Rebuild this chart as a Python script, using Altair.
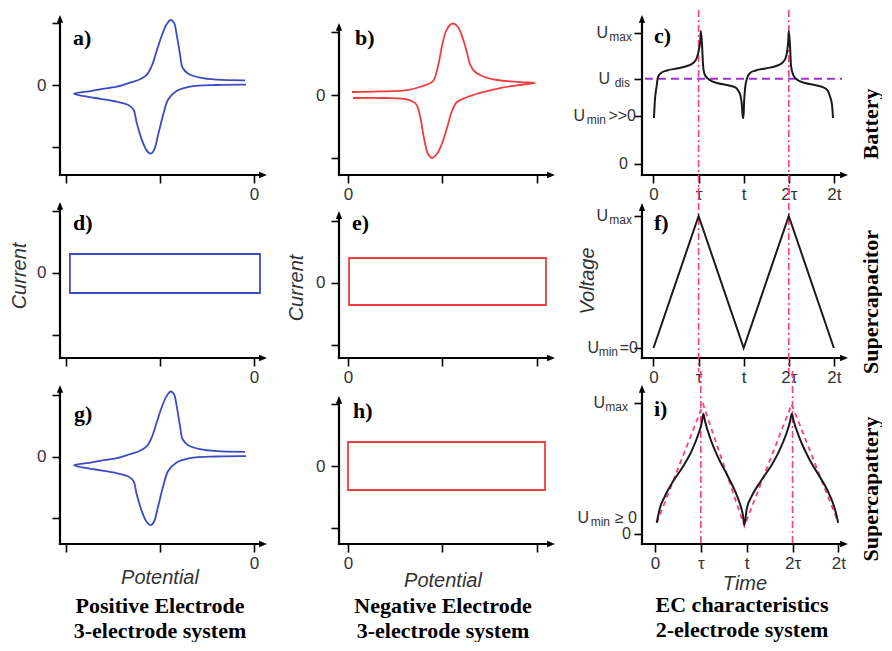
import json
import altair as alt
import pandas as pd

# ---------------- data ----------------
CV_X_TICKS = [0, 1, 2]
CV_Y_TICKS = [-1, 0, 1]
T_TICKS = [0, 1, 2, 3, 4]
T_LABELS = ["0", "τ", "t", "2τ", "2t"]
GUIDE_T = [1, 3]  # tau and 2 tau

# positive electrode CV (panels a and g): upper (anodic) and lower (cathodic) branches
POS_UP_X = [0.080, 0.215, 0.357, 0.535, 0.677, 0.784, 0.855, 0.909, 0.962, 1.015, 1.069, 1.111,
            1.147, 1.175, 1.211, 1.239, 1.299, 1.424, 1.602, 1.904]
POS_UP_Y = [-0.141, -0.109, -0.070, -0.028, 0.037, 0.093, 0.163, 0.309, 0.553, 0.797, 0.986, 1.057,
            1.013, 0.824, 0.499, 0.281, 0.184, 0.119, 0.086, 0.076]
POS_LO_X = [0.080, 0.286, 0.499, 0.659, 0.713, 0.749, 0.802, 0.855, 0.898, 0.933, 0.979, 1.033,
            1.086, 1.175, 1.317, 1.602, 1.915]
POS_LO_Y = [-0.141, -0.206, -0.260, -0.325, -0.395, -0.613, -0.883, -1.062, -1.117, -1.062, -0.802,
            -0.477, -0.233, -0.098, -0.028, 0.0, 0.005]

# negative electrode CV (panel b)
NEG_UP_X = [0.042, 0.340, 0.626, 0.796, 0.902, 0.955, 0.997, 1.040, 1.082, 1.114, 1.167, 1.220,
            1.263, 1.294, 1.337, 1.422, 1.581, 1.825, 1.984]
NEG_UP_Y = [0.048, 0.056, 0.079, 0.143, 0.222, 0.460, 0.778, 1.016, 1.111, 1.135, 1.079, 0.889,
            0.667, 0.492, 0.381, 0.302, 0.238, 0.206, 0.190]
NEG_LO_X = [1.984, 1.825, 1.613, 1.401, 1.241, 1.156, 1.103, 1.050, 0.987, 0.934, 0.891, 0.849,
            0.806, 0.764, 0.721, 0.626, 0.393, 0.053]
NEG_LO_Y = [0.190, 0.159, 0.111, 0.032, -0.048, -0.111, -0.254, -0.524, -0.810, -0.952, -1.0,
            -0.937, -0.683, -0.333, -0.143, -0.071, -0.048, -0.048]

# rectangular (capacitive) CVs: x1, x2, y1, y2
RECT_D = [0.037, 2.064, -0.323, 0.306]
RECT_E = [0.011, 2.100, -0.355, 0.403]
RECT_H = [0.000, 2.090, -0.390, 0.390]

# battery charge/discharge (panel c)
BAT_T = [0.01, 0.03, 0.07, 0.10, 0.17, 0.30, 0.52, 0.74, 0.88, 0.96, 1.01, 1.04, 1.05,
         1.08, 1.10, 1.14, 1.23, 1.41, 1.63, 1.79, 1.87, 1.93, 1.96, 1.98,
         1.995, 2.01, 2.03, 2.07, 2.14, 2.27, 2.49, 2.72, 2.85, 2.93, 2.97, 2.99, 3.00,
         3.03, 3.05, 3.10, 3.18, 3.36, 3.58, 3.74, 3.85, 3.91, 3.96, 3.98]
BAT_U = [0.351, 0.481, 0.595, 0.664, 0.695, 0.714, 0.729, 0.748, 0.771, 0.809, 0.878, 0.954, 1.015,
         0.885, 0.748, 0.679, 0.645, 0.618, 0.603, 0.588, 0.565, 0.519, 0.450, 0.351,
         0.351, 0.481, 0.573, 0.649, 0.695, 0.714, 0.729, 0.748, 0.771, 0.809, 0.878, 0.954, 1.015,
         0.885, 0.748, 0.679, 0.645, 0.618, 0.603, 0.588, 0.565, 0.519, 0.450, 0.351]
U_DIS = 0.65
U_MIN_BAT = 0.366
UDIS_SPAN = [-0.19, 4.18]

# supercapacitor (panel f)
SC_T = [0, 1, 2, 3, 4]
SC_U = [0, 1, 0, 1, 0]

# supercapattery (panel i)
SCT_T = [0.037, 0.109, 0.218, 0.40, 0.618, 0.80, 0.945, 1.02, 1.055,
         1.09, 1.20, 1.38, 1.566, 1.747, 1.856, 1.915, 1.95,
         2.00, 2.11, 2.31, 2.53, 2.71, 2.86, 2.94, 2.985,
         3.025, 3.15, 3.35, 3.56, 3.77, 3.89, 3.955, 3.995]
SCT_U = [0.086, 0.201, 0.290, 0.405, 0.519, 0.634, 0.761, 0.850, 0.918,
         0.863, 0.735, 0.582, 0.456, 0.328, 0.227, 0.150, 0.069,
         0.190, 0.290, 0.405, 0.519, 0.634, 0.761, 0.850, 0.918,
         0.863, 0.735, 0.582, 0.456, 0.328, 0.227, 0.150, 0.086]
SCT_REF_T = [0.04, 1.05, 1.95, 2.98, 4.0]
SCT_REF_U = [0.086, 0.99, 0.06, 0.99, 0.086]
U_MIN_SCT = 0.122

# ---------------- style ----------------
SANS = "Liberation Sans"
SERIF = "Liberation Serif"
LBL = "#333333"
BLUE = "#3b4cc0"
RED = "#f03c3c"
PINK = "#ff3d7f"
PURPLE = "#9a32cd"
ARROW_R = "M0,0L-1.5,-0.6L-1.5,0.6Z"
ARROW_U = "M0,0L-0.6,1.5L0.6,1.5Z"
BIG = 22       # bold serif captions
SIDE = 22      # row labels on the right
TITLE = 20     # italic axis titles
TICK = 17      # tick labels
ULAB = 16      # U labels in column 3
SUB = 12       # subscripts


class Panel:
    def __init__(self, w, h, xdom, ydom, xticks, yticks, xexpr=None, yexpr=None,
                 xtip=None, ytip=None):
        self.w, self.h = w, h
        self.xdom, self.ydom = xdom, ydom
        self.kx = w / (xdom[1] - xdom[0])
        self.ky = h / (ydom[1] - ydom[0])
        self.xtip = xdom[1] if xtip is None else xtip
        self.ytip = ydom[1] if ytip is None else ytip
        self.xs = alt.Scale(domain=xdom, nice=False, zero=False)
        self.ys = alt.Scale(domain=ydom, nice=False, zero=False)
        common = dict(domain=False, grid=False, tickSize=8, tickWidth=1.6, tickColor="black",
                      labelFont=SANS, labelFontSize=TICK, labelColor=LBL,
                      labelFlush=False, labelOverlap=False, labelAngle=0, title=None)
        xa = dict(common, values=xticks, labelPadding=3)
        ya = dict(common, values=yticks, labelPadding=6)
        if xexpr:
            xa["labelExpr"] = xexpr
        else:
            xa["labels"] = False
        if yexpr:
            ya["labelExpr"] = yexpr
        else:
            ya["labels"] = False
        self.xaxis = alt.Axis(**xa)
        self.yaxis = alt.Axis(**ya)
        self.layers = []
        self._frame()

    def X(self, f="x"):
        return alt.X(f"{f}:Q", scale=self.xs, axis=self.xaxis)

    def Y(self, f="y"):
        return alt.Y(f"{f}:Q", scale=self.ys, axis=self.yaxis)

    def _frame(self):
        x0, y0 = self.xdom[0], self.ydom[0]
        self.layers.append(
            alt.Chart(pd.DataFrame({"x": [x0], "x2": [self.xtip - 5 / self.kx], "y": [y0]}))
            .mark_rule(color="black", strokeWidth=2.2, strokeCap="square")
            .encode(x=self.X(), x2="x2:Q", y=self.Y()))
        self.layers.append(
            alt.Chart(pd.DataFrame({"x": [x0], "y": [y0], "y2": [self.ytip - 5 / self.ky]}))
            .mark_rule(color="black", strokeWidth=2.2, strokeCap="square")
            .encode(x=self.X(), y=self.Y(), y2="y2:Q"))
        self.layers.append(
            alt.Chart(pd.DataFrame({"x": [self.xtip], "y": [y0]}))
            .mark_point(shape=ARROW_R, size=110, filled=True, color="black", opacity=1, strokeWidth=0)
            .encode(x=self.X(), y=self.Y()))
        self.layers.append(
            alt.Chart(pd.DataFrame({"x": [x0], "y": [self.ytip]}))
            .mark_point(shape=ARROW_U, size=110, filled=True, color="black", opacity=1, strokeWidth=0)
            .encode(x=self.X(), y=self.Y()))

    def path(self, xs, ys, color, width=1.8, interp="catmull-rom", dash=None):
        d = pd.DataFrame({"x": xs, "y": ys, "o": list(range(len(xs)))})
        kw = dict(color=color, strokeWidth=width, interpolate=interp)
        if dash:
            kw["strokeDash"] = dash
        self.layers.append(alt.Chart(d).mark_line(**kw).encode(x=self.X(), y=self.Y(), order="o:Q"))

    def rect(self, r, color):
        d = pd.DataFrame({"x": [r[0]], "x2": [r[1]], "y": [r[2]], "y2": [r[3]]})
        self.layers.append(
            alt.Chart(d).mark_rect(fillOpacity=0, stroke=color, strokeWidth=1.8)
            .encode(x=self.X(), x2="x2:Q", y=self.Y(), y2="y2:Q"))

    def guides(self, top, bottom):
        d = pd.DataFrame({"x": GUIDE_T})
        self.layers.append(
            alt.Chart(d).mark_rule(color=PINK, strokeWidth=1.6, strokeDash=[7, 3, 2, 3])
            .encode(x=self.X(), y=alt.value(top), y2=alt.value(bottom)))

    def ylab(self, text, v, dx, dy=0, size=ULAB):
        d = pd.DataFrame({"x": [self.xdom[0]], "y": [v], "t": [text]})
        self.layers.append(
            alt.Chart(d).mark_text(align="right", baseline="middle", dx=dx, dy=dy, font=SANS,
                                   fontSize=size, color=LBL)
            .encode(x=self.X(), y=self.Y(), text="t:N"))

    def note(self, text, px, py, size=22, font=SERIF, weight="bold", style="normal",
             angle=0, align="center", color="black"):
        d = pd.DataFrame({"t": [text]})
        self.layers.append(
            alt.Chart(d).mark_text(align=align, baseline="middle", font=font, fontSize=size,
                                   fontWeight=weight, fontStyle=style, angle=angle, color=color)
            .encode(x=alt.value(px), y=alt.value(py), text="t:N"))

    def title(self, text, px, py, angle=0):
        self.note(text, px, py, size=TITLE, font=SANS, weight="normal", style="italic",
                  angle=angle, color=LBL)

    def chart(self):
        return alt.layer(*self.layers).properties(width=self.w, height=self.h)


def cv_loop(up_x, up_y, lo_x, lo_y, lower_first):
    if lower_first:
        return list(reversed(lo_x)) + up_x[1:], list(reversed(lo_y)) + up_y[1:]
    return up_x + lo_x[1:], up_y + lo_y[1:]


EXPR_LAST0 = "datum.value == 2 ? '0' : ''"
EXPR_FIRST0 = "datum.value == 0 ? '0' : ''"
EXPR_Y0 = "datum.value == 0 ? '0' : ''"
EXPR_T = json.dumps(T_LABELS, ensure_ascii=False) + "[datum.value]"

W1, W2, W3 = 207, 231, 206
H1, H2, H3 = 160, 156, 159
X1 = [-0.069, 2.139]
X2 = [-0.0955, 2.355]
X3 = [-0.255, 4.313]
X3I = [-0.284, 4.21]
SIDE_X = 229   # right-hand row labels, relative to column-3 plot

pos_x, pos_y = cv_loop(POS_UP_X, POS_UP_Y, POS_LO_X, POS_LO_Y, True)
neg_x, neg_y = cv_loop(NEG_UP_X, NEG_UP_Y, NEG_LO_X, NEG_LO_Y, False)

# a
pa = Panel(W1, H1, X1, [-1.463, 1.138], CV_X_TICKS, CV_Y_TICKS, EXPR_LAST0, EXPR_Y0)
pa.path(pos_x, pos_y, BLUE)
pa.note("a)", 13, 23, align="left")
# b
pb = Panel(W2, H1, X2, [-1.27, 1.27], CV_X_TICKS, CV_Y_TICKS, EXPR_FIRST0, EXPR_Y0,
           xtip=2.196, ytip=1.143)
pb.path(neg_x, neg_y, RED)
pb.note("b)", 16, 23, align="left")
# c
pc = Panel(W3, H1, X3, [-0.084, 1.137], T_TICKS, [0, U_MIN_BAT, U_DIS, 1.0], EXPR_T)
pc.guides(-5, H1 + 14)
pc.layers.append(
    alt.Chart(pd.DataFrame({"x": [UDIS_SPAN[0]], "x2": [UDIS_SPAN[1]], "y": [U_DIS]}))
    .mark_rule(color=PURPLE, strokeWidth=2, strokeDash=[8, 5])
    .encode(x=pc.X(), x2="x2:Q", y=pc.Y()))
pc.path(BAT_T, BAT_U, "#1a1a1a", width=2, interp="monotone")
pc.ylab("U", 1.0, -34)
pc.ylab("max", 1.0, -10, dy=4, size=SUB)
pc.ylab("U", U_DIS, -32)
pc.ylab("dis", U_DIS, -12, dy=4, size=SUB)
pc.ylab("U", U_MIN_BAT, -57)
pc.ylab("min", U_MIN_BAT, -36, dy=4, size=SUB)
pc.ylab(">>0", U_MIN_BAT, -6)
pc.ylab("0", 0, -14)
pc.note("c)", 12, 21, align="left")
pc.note("Battery", SIDE_X, 109, size=SIDE, angle=270)

# d
pd_ = Panel(W1, H2, X1, [-1.371, 1.145], CV_X_TICKS, CV_Y_TICKS, EXPR_LAST0, EXPR_Y0)
pd_.rect(RECT_D, BLUE)
pd_.note("d)", 13, 21, align="left")
pd_.title("Current", -40, 74, angle=270)
# e
pe = Panel(W2, H2, X2, [-1.21, 1.306], CV_X_TICKS, CV_Y_TICKS, EXPR_FIRST0, EXPR_Y0,
           xtip=2.196, ytip=1.16)
pe.rect(RECT_E, RED)
pe.note("e)", 13, 21, align="left")
pe.title("Current", -42, 86, angle=270)
# f
pf = Panel(W3, H2, X3, [-0.076, 1.106], T_TICKS, [0, 1], EXPR_T, ytip=1.098)
pf.guides(-14, H2 + 14)
pf.path(SC_T, SC_U, "#1a1a1a", width=2, interp="linear")
pf.ylab("U", 1.0, -34)
pf.ylab("max", 1.0, -10, dy=4, size=SUB)
pf.ylab("U", 0, -43)
pf.ylab("min", 0, -24, dy=4, size=SUB)
pf.ylab("=0", 0, -4)
pf.note("f)", 12, 21, align="left")
pf.title("Voltage", -54, 79, angle=270)
pf.note("Supercapacitor", SIDE_X, 100, size=SIDE, angle=270)

# g
pg = Panel(W1, H3, X1, [-1.423, 1.163], CV_X_TICKS, CV_Y_TICKS, EXPR_LAST0, EXPR_Y0)
pg.path(pos_x, pos_y, BLUE)
pg.note("g)", 14, 29, align="left")
pg.title("Potential", 100, 193)
pg.note("Positive Electrode", 100, 221, size=BIG)
pg.note("3-electrode system", 100, 246, size=BIG)
# h
ph = Panel(W2, H3, X2, [-1.268, 1.317], CV_X_TICKS, CV_Y_TICKS, EXPR_FIRST0, EXPR_Y0,
           xtip=2.196, ytip=1.14)
ph.rect(RECT_H, RED)
ph.note("h)", 14, 26, align="left")
ph.title("Potential", 104, 196)
ph.note("Negative Electrode", 104, 221, size=BIG)
ph.note("3-electrode system", 104, 246, size=BIG)
# i
pi = Panel(W3, H3, X3I, [-0.076, 1.137], T_TICKS, [0, 1.0], EXPR_T)
pi.guides(-14, H3 + 2)
pi.path(SCT_REF_T, SCT_REF_U, PINK, width=1.8, interp="linear", dash=[5, 4])
pi.path(SCT_T, SCT_U, "#1a1a1a", width=2, interp="monotone")
pi.ylab("U", 1.0, -37)
pi.ylab("max", 1.0, -14, dy=4, size=SUB)
pi.ylab("U", U_MIN_SCT, -53)
pi.ylab("min", U_MIN_SCT, -32, dy=4, size=SUB)
pi.ylab("≥ 0", U_MIN_SCT, -5)
pi.ylab("0", 0, -11)
pi.note("i)", 12, 24, align="left")
pi.title("Time", 103, 199)
pi.note("Supercapattery", SIDE_X, 104, size=SIDE, angle=270)
pi.note("EC characteristics", 100, 220, size=BIG)
pi.note("2-electrode system", 100, 245, size=BIG)

panels = [pa, pb, pc, pd_, pe, pf, pg, ph, pi]
chart = (
    alt.concat(*[p.chart() for p in panels], columns=3,
               spacing={"row": 27, "column": 72}, bounds="flush")
    .properties(padding={"left": 2, "top": 1, "right": 0, "bottom": 0})
    .configure_view(strokeWidth=0)
)
chart.save("out.html", embed_options={"renderer": "svg", "actions": False})
